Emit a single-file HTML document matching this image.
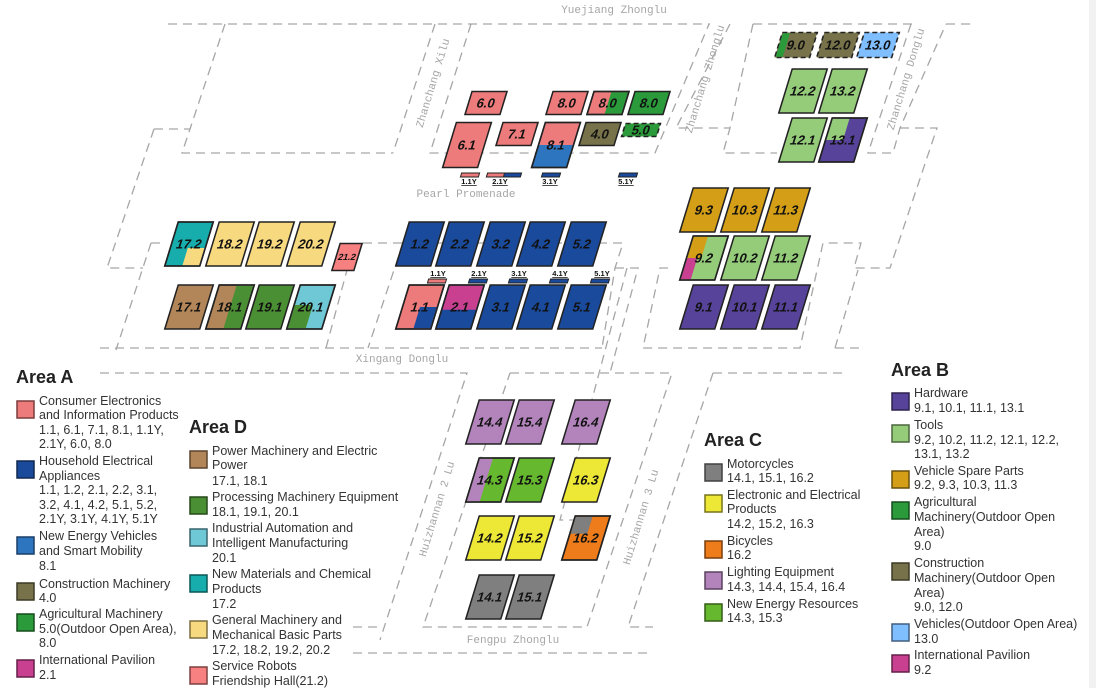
<!DOCTYPE html>
<html><head><meta charset="utf-8"><style>
html,body{margin:0;padding:0;background:#fff;}
svg{display:block;}
.r{fill:none;stroke:#a6a6a6;stroke-width:1.3;stroke-dasharray:9 6;}
.rl{font-family:"Liberation Mono",monospace;font-size:11px;fill:#a6a6a6;}
.b rect{stroke:#222;stroke-width:1.6;}
.b .s{stroke:none;}
.b text{font-family:"Liberation Sans",sans-serif;font-weight:bold;font-size:13px;fill:#111;text-anchor:middle;}
.y text{font-family:"Liberation Sans",sans-serif;font-weight:bold;font-size:7.5px;fill:#111;text-anchor:middle;text-decoration:underline;}
.y rect{stroke:#222;stroke-width:1;}
.lg{font-family:"Liberation Sans",sans-serif;font-size:12.5px;fill:#333;}
.tt{font-family:"Liberation Sans",sans-serif;font-size:18px;font-weight:bold;fill:#222;}
.sw{stroke-width:1.5;}
</style></head><body>
<svg width="1096" height="688" viewBox="0 0 1096 688" xmlns="http://www.w3.org/2000/svg">
<rect x="1089" y="0" width="7" height="688" fill="#f1f1f1"/>
<path class="r" d="M168,24 H710 M753,24 H912 M946,24 H975
M225,24 L182,153 H393 M435,24 L393,153 M471,24 L430,153 H655 L709,24
M730,24 L676,128 H730 M753,24 L730,128 L723,153 H777
M911,24 L868,153 H893 L900,128 L946,24 M900,128 H937 L890,268 H854 L861,243 H823 L800,348 H643 L660,268 H670
M835,348 H862 M835,348 L858,270
M154,129 H190 M154,129 L107,268 H143 M151,243 H166 M151,243 L116,350 M100,348 H602 M326,348 L347,270
M363,243 H403 M403,243 L368,348 M403,243 H623 L615,268 L602,348 M615,268 H638 L610,373 M627,268 L560,520 H610
M100,373 H467 L380,640 M510,373 H672 L587,627 H423 L510,373 M713,373 H847 M713,373 L628,627 H653 M353,627 H380 M353,653 H650"/>
<text class="rl" x="614" y="13" text-anchor="middle">Yuejiang Zhonglu</text>
<text class="rl" transform="translate(436,84) rotate(-73)" text-anchor="middle">Zhanchang Xilu</text>
<text class="rl" transform="translate(708,80) rotate(-73)" text-anchor="middle">Zhanchang Zhonglu</text>
<text class="rl" transform="translate(909,80) rotate(-73)" text-anchor="middle">Zhanchang Donglu</text>
<text class="rl" x="466" y="197" text-anchor="middle">Pearl Promenade</text>
<text class="rl" x="402" y="362" text-anchor="middle">Xingang Donglu</text>
<text class="rl" transform="translate(440,510) rotate(-73)" text-anchor="middle">Huizhannan 2 Lu</text>
<text class="rl" transform="translate(644,518) rotate(-73)" text-anchor="middle">Huizhannan 3 Lu</text>
<text class="rl" x="513" y="643" text-anchor="middle">Fengpu Zhonglu</text>

<g class="b" transform="translate(486,103) skewX(-17)"><rect x="-17.5" y="-11.5" width="35" height="23" fill="#ee7b7b"/><text y="4.5">6.0</text></g>
<g class="b" transform="translate(567,103) skewX(-17)"><rect x="-17.5" y="-11.5" width="35" height="23" fill="#ee7b7b"/><text y="4.5">8.0</text></g>
<g class="b" transform="translate(608,103) skewX(-17)"><rect x="-17.5" y="-11.5" width="35" height="23" fill="#ee7b7b"/><rect class="s" x="0" y="-10.7" width="16.7" height="21.4" fill="#2a9a3a"/><rect x="-17.5" y="-11.5" width="35" height="23" fill="none"/><text y="4.5">8.0</text></g>
<g class="b" transform="translate(649,103) skewX(-17)"><rect x="-17.5" y="-11.5" width="35" height="23" fill="#2a9a3a"/><text y="4.5">8.0</text></g>
<g class="b" transform="translate(467,145) skewX(-17)"><rect x="-17.5" y="-22.5" width="35" height="45" fill="#ee7b7b"/><text y="4.5">6.1</text></g>
<g class="b" transform="translate(517,134) skewX(-17)"><rect x="-17.5" y="-11.5" width="35" height="23" fill="#ee7b7b"/><text y="4.5">7.1</text></g>
<g class="b" transform="translate(556,145) skewX(-17)"><rect x="-17.5" y="-22.5" width="35" height="45" fill="#2e75bf"/><rect class="s" x="-16.7" y="-21.7" width="33.4" height="21.7" fill="#ee7b7b"/><rect x="-17.5" y="-22.5" width="35" height="45" fill="none"/><text y="4.5">8.1</text></g>
<g class="b" transform="translate(600,134) skewX(-17)"><rect x="-17.5" y="-11.5" width="35" height="23" fill="#77724a"/><text y="4.5">4.0</text></g>
<g class="b" transform="translate(641,130) skewX(-17)"><rect x="-17.5" y="-6.5" width="35" height="13" fill="#2a9a3a" stroke-dasharray="5 3"/><text y="4.5">5.0</text></g>
<g class="y"><g transform="translate(470,175) skewX(-17)"><rect x="-9" y="-2" width="18" height="4" fill="#ee7b7b"/></g><text x="469" y="184">1.1Y</text>
<g transform="translate(504,175) skewX(-17)"><rect x="-17" y="-2" width="34" height="4" fill="#1a4a9c"/><rect x="-17" y="-2" width="17" height="4" fill="#ee7b7b"/></g><text x="500" y="184">2.1Y</text>
<g transform="translate(551,175) skewX(-17)"><rect x="-9" y="-2" width="18" height="4" fill="#1a4a9c"/></g><text x="550" y="184">3.1Y</text>
<g transform="translate(628,175) skewX(-17)"><rect x="-9" y="-2" width="18" height="4" fill="#1a4a9c"/></g><text x="626" y="184">5.1Y</text></g>

<g class="b" transform="translate(189,244) skewX(-17)"><rect x="-17.5" y="-22" width="35" height="44" fill="#17adad"/><rect class="s" x="0" y="4" width="16.7" height="17.2" fill="#f7d97f"/><rect x="-17.5" y="-22" width="35" height="44" fill="none"/><text y="4.5">17.2</text></g>
<g class="b" transform="translate(230,244) skewX(-17)"><rect x="-17.5" y="-22" width="35" height="44" fill="#f7d97f"/><text y="4.5">18.2</text></g>
<g class="b" transform="translate(270,244) skewX(-17)"><rect x="-17.5" y="-22" width="35" height="44" fill="#f7d97f"/><text y="4.5">19.2</text></g>
<g class="b" transform="translate(311,244) skewX(-17)"><rect x="-17.5" y="-22" width="35" height="44" fill="#f7d97f"/><text y="4.5">20.2</text></g>
<g class="b" transform="translate(347,257) skewX(-17)"><rect x="-11" y="-13.5" width="22" height="27" fill="#f78080"/><text y="3" style="font-size:9px">21.2</text></g>
<g class="b" transform="translate(189,307) skewX(-17)"><rect x="-17.5" y="-22" width="35" height="44" fill="#b38659"/><text y="4.5">17.1</text></g>
<g class="b" transform="translate(230,307) skewX(-17)"><rect x="-17.5" y="-22" width="35" height="44" fill="#b38659"/><rect class="s" x="0" y="-21.2" width="16.7" height="42.4" fill="#4b8f34"/><rect x="-17.5" y="-22" width="35" height="44" fill="none"/><text y="4.5">18.1</text></g>
<g class="b" transform="translate(270,307) skewX(-17)"><rect x="-17.5" y="-22" width="35" height="44" fill="#4b8f34"/><text y="4.5">19.1</text></g>
<g class="b" transform="translate(311,307) skewX(-17)"><rect x="-17.5" y="-22" width="35" height="44" fill="#6ec8d6"/><rect class="s" x="-16.7" y="-2" width="18" height="23.2" fill="#4b8f34"/><rect x="-17.5" y="-22" width="35" height="44" fill="none"/><text y="4.5">20.1</text></g>

<g class="b" transform="translate(420,244) skewX(-17)"><rect x="-17.5" y="-22" width="35" height="44" fill="#1a4a9c"/><text y="4.5">1.2</text></g>
<g class="b" transform="translate(460,244) skewX(-17)"><rect x="-17.5" y="-22" width="35" height="44" fill="#1a4a9c"/><text y="4.5">2.2</text></g>
<g class="b" transform="translate(501,244) skewX(-17)"><rect x="-17.5" y="-22" width="35" height="44" fill="#1a4a9c"/><text y="4.5">3.2</text></g>
<g class="b" transform="translate(541,244) skewX(-17)"><rect x="-17.5" y="-22" width="35" height="44" fill="#1a4a9c"/><text y="4.5">4.2</text></g>
<g class="b" transform="translate(582,244) skewX(-17)"><rect x="-17.5" y="-22" width="35" height="44" fill="#1a4a9c"/><text y="4.5">5.2</text></g>
<g class="b" transform="translate(420,307) skewX(-17)"><rect x="-17.5" y="-22" width="35" height="44" fill="#ee7b7b"/><rect class="s" x="0" y="0" width="16.7" height="21.2" fill="#1a4a9c"/><rect x="-17.5" y="-22" width="35" height="44" fill="none"/><text y="4.5">1.1</text></g>
<g class="b" transform="translate(460,307) skewX(-17)"><rect x="-17.5" y="-22" width="35" height="44" fill="#1a4a9c"/><rect class="s" x="-16.7" y="-21.2" width="33.4" height="24" fill="#c8408f"/><rect x="-17.5" y="-22" width="35" height="44" fill="none"/><text y="4.5">2.1</text></g>
<g class="b" transform="translate(501,307) skewX(-17)"><rect x="-17.5" y="-22" width="35" height="44" fill="#1a4a9c"/><text y="4.5">3.1</text></g>
<g class="b" transform="translate(541,307) skewX(-17)"><rect x="-17.5" y="-22" width="35" height="44" fill="#1a4a9c"/><text y="4.5">4.1</text></g>
<g class="b" transform="translate(582,307) skewX(-17)"><rect x="-17.5" y="-22" width="35" height="44" fill="#1a4a9c"/><text y="4.5">5.1</text></g>
<g class="y"><g transform="translate(437,281) skewX(-17)"><rect x="-9" y="-2" width="18" height="4" fill="#ee7b7b"/></g><text x="438" y="276">1.1Y</text>
<g transform="translate(478,281) skewX(-17)"><rect x="-9" y="-2" width="18" height="4" fill="#1a4a9c"/></g><text x="479" y="276">2.1Y</text>
<g transform="translate(518,281) skewX(-17)"><rect x="-9" y="-2" width="18" height="4" fill="#1a4a9c"/></g><text x="519" y="276">3.1Y</text>
<g transform="translate(559,281) skewX(-17)"><rect x="-9" y="-2" width="18" height="4" fill="#1a4a9c"/></g><text x="560" y="276">4.1Y</text>
<g transform="translate(600,281) skewX(-17)"><rect x="-9" y="-2" width="18" height="4" fill="#1a4a9c"/></g><text x="602" y="276">5.1Y</text></g>

<g class="b" transform="translate(796,45) skewX(-17)"><rect x="-17.5" y="-12.5" width="35" height="25" fill="#77724a" stroke-dasharray="5 3"/><rect class="s" x="-16.7" y="-11.7" width="7" height="23.4" fill="#2a9a3a"/><text y="4.5">9.0</text></g>
<g class="b" transform="translate(838,45) skewX(-17)"><rect x="-17.5" y="-12.5" width="35" height="25" fill="#77724a" stroke-dasharray="5 3"/><text y="4.5">12.0</text></g>
<g class="b" transform="translate(878,45) skewX(-17)"><rect x="-17.5" y="-12.5" width="35" height="25" fill="#7fbfff" stroke-dasharray="5 3"/><text y="4.5">13.0</text></g>
<g class="b" transform="translate(803,91) skewX(-17)"><rect x="-17.5" y="-22" width="35" height="44" fill="#95cc7a"/><text y="4.5">12.2</text></g>
<g class="b" transform="translate(843,91) skewX(-17)"><rect x="-17.5" y="-22" width="35" height="44" fill="#95cc7a"/><text y="4.5">13.2</text></g>
<g class="b" transform="translate(803,140) skewX(-17)"><rect x="-17.5" y="-22" width="35" height="44" fill="#95cc7a"/><text y="4.5">12.1</text></g>
<g class="b" transform="translate(843,140) skewX(-17)"><rect x="-17.5" y="-22" width="35" height="44" fill="#574399"/><rect class="s" x="-16.7" y="-21.2" width="16.7" height="21.2" fill="#95cc7a"/><rect x="-17.5" y="-22" width="35" height="44" fill="none"/><text y="4.5">13.1</text></g>
<g class="b" transform="translate(704,210) skewX(-17)"><rect x="-17.5" y="-22" width="35" height="44" fill="#d49f16"/><text y="4.5">9.3</text></g>
<g class="b" transform="translate(745,210) skewX(-17)"><rect x="-17.5" y="-22" width="35" height="44" fill="#d49f16"/><text y="4.5">10.3</text></g>
<g class="b" transform="translate(786,210) skewX(-17)"><rect x="-17.5" y="-22" width="35" height="44" fill="#d49f16"/><text y="4.5">11.3</text></g>
<g class="b" transform="translate(704,258) skewX(-17)"><rect x="-17.5" y="-22" width="35" height="44" fill="#95cc7a"/><rect class="s" x="-16.7" y="-21.2" width="14" height="21.2" fill="#d49f16"/><rect class="s" x="-16.7" y="0" width="10" height="21.2" fill="#c8408f"/><rect x="-17.5" y="-22" width="35" height="44" fill="none"/><text y="4.5">9.2</text></g>
<g class="b" transform="translate(745,258) skewX(-17)"><rect x="-17.5" y="-22" width="35" height="44" fill="#95cc7a"/><text y="4.5">10.2</text></g>
<g class="b" transform="translate(786,258) skewX(-17)"><rect x="-17.5" y="-22" width="35" height="44" fill="#95cc7a"/><text y="4.5">11.2</text></g>
<g class="b" transform="translate(704,307) skewX(-17)"><rect x="-17.5" y="-22" width="35" height="44" fill="#574399"/><text y="4.5">9.1</text></g>
<g class="b" transform="translate(745,307) skewX(-17)"><rect x="-17.5" y="-22" width="35" height="44" fill="#574399"/><text y="4.5">10.1</text></g>
<g class="b" transform="translate(786,307) skewX(-17)"><rect x="-17.5" y="-22" width="35" height="44" fill="#574399"/><text y="4.5">11.1</text></g>

<g class="b" transform="translate(490,422) skewX(-17)"><rect x="-17.5" y="-22" width="35" height="44" fill="#b384bb"/><text y="4.5">14.4</text></g>
<g class="b" transform="translate(530,422) skewX(-17)"><rect x="-17.5" y="-22" width="35" height="44" fill="#b384bb"/><text y="4.5">15.4</text></g>
<g class="b" transform="translate(586,422) skewX(-17)"><rect x="-17.5" y="-22" width="35" height="44" fill="#b384bb"/><text y="4.5">16.4</text></g>
<g class="b" transform="translate(490,480) skewX(-17)"><rect x="-17.5" y="-22" width="35" height="44" fill="#66b82e"/><rect class="s" x="-16.7" y="-21.2" width="13" height="42.4" fill="#b384bb"/><rect x="-17.5" y="-22" width="35" height="44" fill="none"/><text y="4.5">14.3</text></g>
<g class="b" transform="translate(530,480) skewX(-17)"><rect x="-17.5" y="-22" width="35" height="44" fill="#66b82e"/><text y="4.5">15.3</text></g>
<g class="b" transform="translate(586,480) skewX(-17)"><rect x="-17.5" y="-22" width="35" height="44" fill="#ede836"/><text y="4.5">16.3</text></g>
<g class="b" transform="translate(490,538) skewX(-17)"><rect x="-17.5" y="-22" width="35" height="44" fill="#ede836"/><text y="4.5">14.2</text></g>
<g class="b" transform="translate(530,538) skewX(-17)"><rect x="-17.5" y="-22" width="35" height="44" fill="#ede836"/><text y="4.5">15.2</text></g>
<g class="b" transform="translate(586,538) skewX(-17)"><rect x="-17.5" y="-22" width="35" height="44" fill="#ef7c1a"/><rect class="s" x="-16.7" y="-21.2" width="16.7" height="17" fill="#7f7f7f"/><rect x="-17.5" y="-22" width="35" height="44" fill="none"/><text y="4.5">16.2</text></g>
<g class="b" transform="translate(490,597) skewX(-17)"><rect x="-17.5" y="-22" width="35" height="44" fill="#7f7f7f"/><text y="4.5">14.1</text></g>
<g class="b" transform="translate(530,597) skewX(-17)"><rect x="-17.5" y="-22" width="35" height="44" fill="#7f7f7f"/><text y="4.5">15.1</text></g>

<text class="tt" x="16" y="383">Area A</text>
<rect class="sw" x="17" y="401" width="17" height="17" fill="#ee7b7b" stroke="#7a3d3d"/>
<text class="lg"><tspan x="39" y="405">Consumer Electronics</tspan><tspan x="39" y="419">and Information Products</tspan><tspan x="39" y="434">1.1, 6.1, 7.1, 8.1, 1.1Y,</tspan><tspan x="39" y="448">2.1Y, 6.0, 8.0</tspan></text>
<rect class="sw" x="17" y="461" width="17" height="17" fill="#1a4a9c" stroke="#10284f"/>
<text class="lg"><tspan x="39" y="465">Household Electrical</tspan><tspan x="39" y="480">Appliances</tspan><tspan x="39" y="494">1.1, 1.2, 2.1, 2.2, 3.1,</tspan><tspan x="39" y="509">3.2, 4.1, 4.2, 5.1, 5.2,</tspan><tspan x="39" y="523">2.1Y, 3.1Y, 4.1Y, 5.1Y</tspan></text>
<rect class="sw" x="17" y="537" width="17" height="17" fill="#2e75bf" stroke="#1a3f66"/>
<text class="lg"><tspan x="39" y="540">New Energy Vehicles</tspan><tspan x="39" y="555">and Smart Mobility</tspan><tspan x="39" y="570">8.1</tspan></text>
<rect class="sw" x="17" y="583" width="17" height="17" fill="#77724a" stroke="#3c3a25"/>
<text class="lg"><tspan x="39" y="588">Construction Machinery</tspan><tspan x="39" y="602">4.0</tspan></text>
<rect class="sw" x="17" y="614" width="17" height="17" fill="#2a9a3a" stroke="#154d1d"/>
<text class="lg"><tspan x="39" y="618">Agricultural Machinery</tspan><tspan x="39" y="633">5.0(Outdoor Open Area),</tspan><tspan x="39" y="647">8.0</tspan></text>
<rect class="sw" x="17" y="660" width="17" height="17" fill="#c8408f" stroke="#642048"/>
<text class="lg"><tspan x="39" y="664">International Pavilion</tspan><tspan x="39" y="679">2.1</tspan></text>

<text class="tt" x="189" y="433">Area D</text>
<rect class="sw" x="190" y="451" width="17" height="17" fill="#b38659" stroke="#5a432d"/>
<text class="lg"><tspan x="212" y="455">Power Machinery and Electric</tspan><tspan x="212" y="469">Power</tspan><tspan x="212" y="485">17.1, 18.1</tspan></text>
<rect class="sw" x="190" y="497" width="17" height="17" fill="#4b8f34" stroke="#26481a"/>
<text class="lg"><tspan x="212" y="501">Processing Machinery Equipment</tspan><tspan x="212" y="516">18.1, 19.1, 20.1</tspan></text>
<rect class="sw" x="190" y="529" width="17" height="17" fill="#6ec8d6" stroke="#37646b"/>
<text class="lg"><tspan x="212" y="532">Industrial Automation and</tspan><tspan x="212" y="547">Intelligent Manufacturing</tspan><tspan x="212" y="562">20.1</tspan></text>
<rect class="sw" x="190" y="575" width="17" height="17" fill="#17adad" stroke="#0c5757"/>
<text class="lg"><tspan x="212" y="578">New Materials and Chemical</tspan><tspan x="212" y="593">Products</tspan><tspan x="212" y="608">17.2</tspan></text>
<rect class="sw" x="190" y="621" width="17" height="17" fill="#f7d97f" stroke="#7c6d40"/>
<text class="lg"><tspan x="212" y="624">General Machinery and</tspan><tspan x="212" y="639">Mechanical Basic Parts</tspan><tspan x="212" y="654">17.2, 18.2, 19.2, 20.2</tspan></text>
<rect class="sw" x="190" y="667" width="17" height="17" fill="#f78080" stroke="#7c4040"/>
<text class="lg"><tspan x="212" y="670">Service Robots</tspan><tspan x="212" y="685">Friendship Hall(21.2)</tspan></text>

<text class="tt" x="704" y="446">Area C</text>
<rect class="sw" x="705" y="464" width="17" height="17" fill="#7f7f7f" stroke="#404040"/>
<text class="lg"><tspan x="727" y="468">Motorcycles</tspan><tspan x="727" y="482">14.1, 15.1, 16.2</tspan></text>
<rect class="sw" x="705" y="495" width="17" height="17" fill="#ede836" stroke="#77741b"/>
<text class="lg"><tspan x="727" y="499">Electronic and Electrical</tspan><tspan x="727" y="513">Products</tspan><tspan x="727" y="528">14.2, 15.2, 16.3</tspan></text>
<rect class="sw" x="705" y="541" width="17" height="17" fill="#ef7c1a" stroke="#783e0d"/>
<text class="lg"><tspan x="727" y="545">Bicycles</tspan><tspan x="727" y="559">16.2</tspan></text>
<rect class="sw" x="705" y="572" width="17" height="17" fill="#b384bb" stroke="#5a425e"/>
<text class="lg"><tspan x="727" y="576">Lighting Equipment</tspan><tspan x="727" y="591">14.3, 14.4, 15.4, 16.4</tspan></text>
<rect class="sw" x="705" y="604" width="17" height="17" fill="#66b82e" stroke="#335c17"/>
<text class="lg"><tspan x="727" y="608">New Energy Resources</tspan><tspan x="727" y="622">14.3, 15.3</tspan></text>

<text class="tt" x="891" y="376">Area B</text>
<rect class="sw" x="892" y="393" width="17" height="17" fill="#574399" stroke="#2c224d"/>
<text class="lg"><tspan x="914" y="397">Hardware</tspan><tspan x="914" y="412">9.1, 10.1, 11.1, 13.1</tspan></text>
<rect class="sw" x="892" y="425" width="17" height="17" fill="#95cc7a" stroke="#4b663d"/>
<text class="lg"><tspan x="914" y="429">Tools</tspan><tspan x="914" y="444">9.2, 10.2, 11.2, 12.1, 12.2,</tspan><tspan x="914" y="458">13.1, 13.2</tspan></text>
<rect class="sw" x="892" y="471" width="17" height="17" fill="#d49f16" stroke="#6a500b"/>
<text class="lg"><tspan x="914" y="475">Vehicle Spare Parts</tspan><tspan x="914" y="489">9.2, 9.3, 10.3, 11.3</tspan></text>
<rect class="sw" x="892" y="502" width="17" height="17" fill="#2a9a3a" stroke="#154d1d"/>
<text class="lg"><tspan x="914" y="506">Agricultural</tspan><tspan x="914" y="521">Machinery(Outdoor Open</tspan><tspan x="914" y="536">Area)</tspan><tspan x="914" y="550">9.0</tspan></text>
<rect class="sw" x="892" y="563" width="17" height="17" fill="#77724a" stroke="#3c3a25"/>
<text class="lg"><tspan x="914" y="567">Construction</tspan><tspan x="914" y="582">Machinery(Outdoor Open</tspan><tspan x="914" y="597">Area)</tspan><tspan x="914" y="611">9.0, 12.0</tspan></text>
<rect class="sw" x="892" y="624" width="17" height="17" fill="#7fbfff" stroke="#405f80"/>
<text class="lg"><tspan x="914" y="628">Vehicles(Outdoor Open Area)</tspan><tspan x="914" y="643">13.0</tspan></text>
<rect class="sw" x="892" y="655" width="17" height="17" fill="#c8408f" stroke="#642048"/>
<text class="lg"><tspan x="914" y="659">International Pavilion</tspan><tspan x="914" y="674">9.2</tspan></text>
</svg>
</body></html>
